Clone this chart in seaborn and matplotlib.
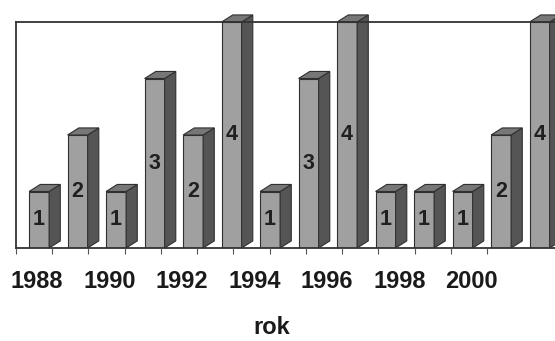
import numpy as np
import pandas as pd
import seaborn as sns
import matplotlib.pyplot as plt
from matplotlib.patches import Polygon

years = [1988, 1989, 1990, 1991, 1992, 1993, 1994,
         1995, 1996, 1997, 1998, 1999, 2000, 2001]
counts = [1, 2, 1, 3, 2, 4, 1, 3, 4, 1, 1, 1, 2, 4]
tick_years = [1988, 1990, 1992, 1994, 1996, 1998, 2000]

df = pd.DataFrame({'rok': [str(y) for y in years], 'n': counts})

sns.set_style('white')
plt.rcParams['font.family'] = ['Liberation Sans', 'DejaVu Sans']

fig = plt.figure(figsize=(5.55, 3.41), dpi=100)
ax = fig.add_axes([16 / 555, 93 / 341, 1 - 16 / 555, 226 / 341])

sns.barplot(df, x='rok', y='n', width=0.52, color='#a0a0a0',
            saturation=1, edgecolor='#303030', linewidth=0.8, ax=ax)

# fake 3D: side and top faces
dx, dy = 0.29, 0.125
for p in ax.patches:
    x0, w, h = p.get_x(), p.get_width(), p.get_height()
    x1 = x0 + w
    side = Polygon([(x1, 0), (x1 + dx, dy), (x1 + dx, h + dy), (x1, h)],
                   closed=True, fc='#555555', ec='#303030', lw=0.8,
                   clip_on=False, zorder=p.get_zorder())
    top = Polygon([(x0, h), (x0 + dx, h + dy), (x1 + dx, h + dy), (x1, h)],
                  closed=True, fc='#777777', ec='#303030', lw=0.8,
                  clip_on=False, zorder=p.get_zorder())
    ax.add_patch(side)
    ax.add_patch(top)
    ax.text(x0 + w / 2, h / 2, f'{int(h)}', ha='center', va='center',
            fontsize=15.5, fontweight='bold', color='#202020', zorder=5)

ax.set_xlim(-0.6, 13.4)
ax.set_ylim(0, 4)
ax.set_yticks([])
ax.set_xticks([])
ax.set_xlabel('')
ax.set_ylabel('')

for s in ['top', 'left', 'bottom']:
    ax.spines[s].set_visible(True)
    ax.spines[s].set_color('#333333')
    ax.spines[s].set_linewidth(1.3)
ax.spines['right'].set_visible(False)

# floor axis (front edge, slightly tighter spacing like the 3D perspective)
floor = ax.twiny()
floor.xaxis.set_ticks_position('bottom')
floor.xaxis.set_label_position('bottom')
for s in floor.spines.values():
    s.set_visible(False)
floor.set_xlim(-0.5 + 1 / 36.3, -0.5 + 540 / 36.3)
idx = [years.index(y) for y in tick_years]
floor.set_xticks(np.array(idx) + 0.08)
floor.set_xticklabels([str(y) for y in tick_years], fontsize=17,
                      fontweight='bold', color='#1a1a1a')
floor.set_xticks(np.arange(len(years)) - 0.5, minor=True)
floor.tick_params(axis='x', which='major', length=0, pad=16)
floor.tick_params(axis='x', which='minor', length=4, width=0.8,
                  color='#555555', bottom=True)
floor.set_xlabel('rok', fontsize=17, fontweight='bold', color='#1a1a1a')
floor.xaxis.set_label_coords(0.475, -0.3)

fig.savefig('out.png', dpi=100)
